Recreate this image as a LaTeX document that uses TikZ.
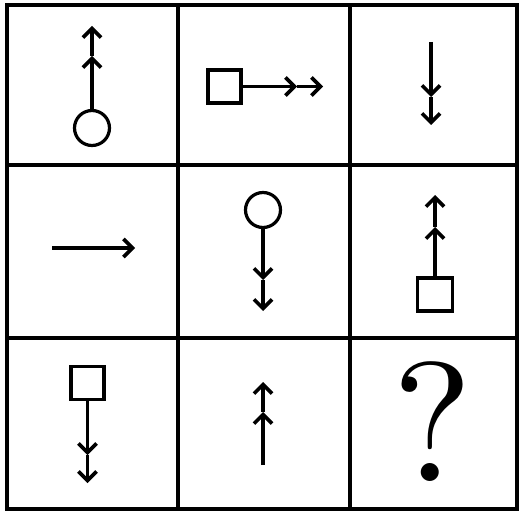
\documentclass[tikz,border=0pt]{standalone}
\usepackage{fontspec}
\newfontfamily\qfont{lmroman10-regular.otf}
\usetikzlibrary{arrows.meta}
\tikzset{
  gridline/.style={line width=3.6pt},
  arr/.style={line width=3.4pt,-{Straight Barb[length=9pt,width=18pt,line width=3.6pt]}},
  ring/.style={circle,draw,line width=3.2pt,minimum size=35pt,inner sep=0pt},
  box/.style={rectangle,draw,line width=3.2pt,minimum size=33pt,inner sep=0pt},
}
\begin{document}
\begin{tikzpicture}[x=1pt,y=-1pt]
\useasboundingbox (0,0) rectangle (521,513);
% grid
\draw[gridline] (7,5) rectangle (517,509);
\draw[gridline] (178,5) -- (178,509);
\draw[gridline] (350,5) -- (350,509);
\draw[gridline] (7,165) -- (517,165);
\draw[gridline] (7,338) -- (517,338);
% cell 1
\node[ring] (c1) at (92,128) {};
\coordinate (m1) at (92,56);
\coordinate (t1) at (92,26);
\draw[arr] (c1.north) -- (m1);
\draw[arr] (m1) -- (t1);
% cell 2
\node[box] (s2) at (224.5,86.5) {};
\coordinate (m2) at (297,86.5);
\coordinate (t2) at (323,86.5);
\draw[arr] (s2.east) -- (m2);
\draw[arr] (m2) -- (t2);
% cell 3
\coordinate (b3) at (431,42);
\coordinate (m3) at (431,97);
\coordinate (t3) at (431,125);
\draw[arr] (b3) -- (m3);
\draw[arr] (m3) -- (t3);
% cell 4
\coordinate (b4) at (52,248);
\coordinate (t4) at (135,248);
\draw[arr] (b4) -- (t4);
% cell 5
\node[ring] (c5) at (263,210) {};
\coordinate (m5) at (263,280);
\coordinate (t5) at (263,311);
\draw[arr] (c5.south) -- (m5);
\draw[arr] (m5) -- (t5);
% cell 6
\node[box,minimum width=35pt] (s6) at (435,294.5) {};
\coordinate (m6) at (435,227);
\coordinate (t6) at (435,195);
\draw[arr] (s6.north) -- (m6);
\draw[arr] (m6) -- (t6);
% cell 7
\node[box] (s7) at (87.5,383) {};
\coordinate (m7) at (87.5,455);
\coordinate (t7) at (87.5,483);
\draw[arr] (s7.south) -- (m7);
\draw[arr] (m7) -- (t7);
% cell 8
\coordinate (b8) at (263,465);
\coordinate (m8) at (263,412);
\coordinate (t8) at (263,382);
\draw[arr] (b8) -- (m8);
\draw[arr] (m8) -- (t8);
% cell 9
\node[inner sep=0pt] (q) at (433,422) {\qfont\fontsize{170}{170}\selectfont ?};
\end{tikzpicture}
\end{document}
